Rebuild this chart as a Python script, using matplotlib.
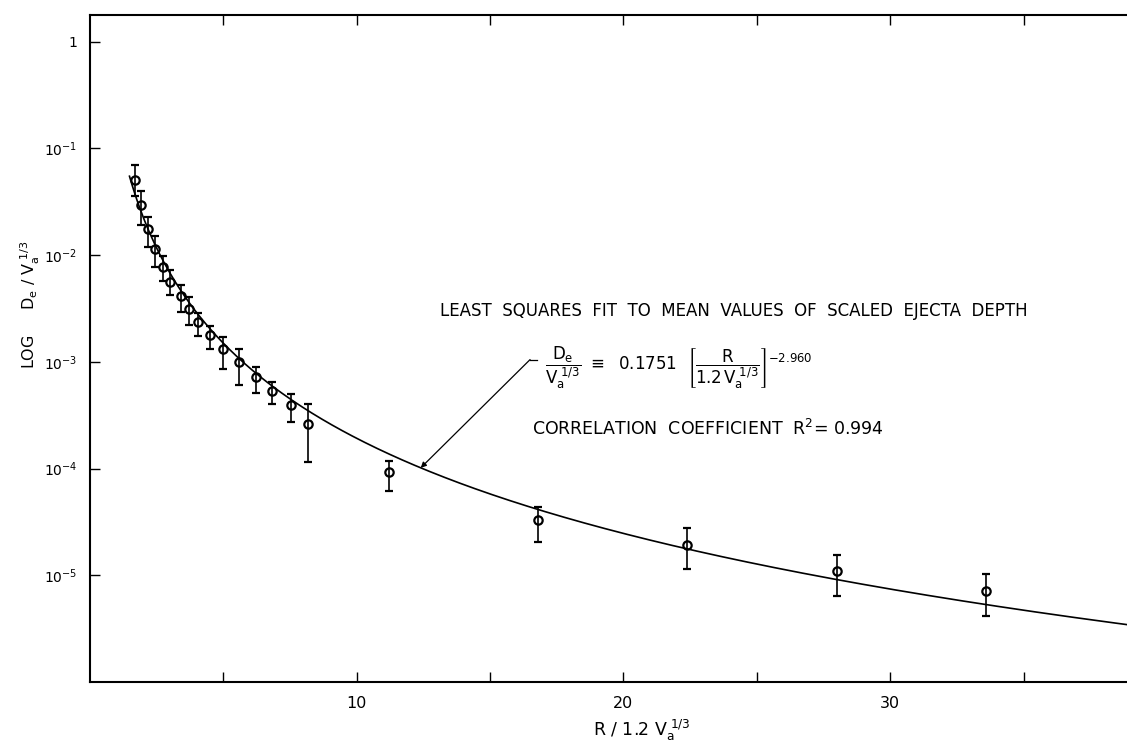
import numpy as np
import matplotlib
matplotlib.use("Agg")
import matplotlib.pyplot as plt

# scaled range and measured ejecta depth (mean, upper, lower)
r_scaled = [1.69, 1.90, 2.16, 2.45, 2.73, 3.01, 3.41, 3.71, 4.05, 4.50,
            5.00, 5.60, 6.21, 6.84, 7.53, 8.16, 11.2, 16.8, 22.4, 28.0, 33.6]
depth_mean = [5.08e-2, 2.97e-2, 1.76e-2, 1.14e-2, 7.76e-3, 5.57e-3, 4.12e-3,
              3.16e-3, 2.35e-3, 1.78e-3, 1.33e-3, 9.93e-4, 7.26e-4, 5.32e-4,
              3.97e-4, 2.61e-4, 9.2e-5, 3.28e-5, 1.93e-5, 1.10e-5, 7.07e-6]
depth_hi = [7.03e-2, 3.95e-2, 2.28e-2, 1.52e-2, 9.75e-3, 7.21e-3, 5.30e-3,
            4.06e-3, 2.88e-3, 2.19e-3, 1.70e-3, 1.31e-3, 9.00e-4, 6.46e-4,
            4.95e-4, 3.99e-4, 1.18e-4, 4.32e-5, 2.78e-5, 1.56e-5, 1.03e-5]
depth_lo = [3.55e-2, 1.93e-2, 1.19e-2, 7.76e-3, 5.69e-3, 4.21e-3, 2.92e-3,
            2.20e-3, 1.74e-3, 1.31e-3, 8.6e-4, 6.01e-4, 5.06e-4, 3.99e-4,
            2.73e-4, 1.15e-4, 6.1e-5, 2.07e-5, 1.135e-5, 6.43e-6, 4.15e-6]

# least squares fit
fit_coef = 0.1751
fit_exp = -2.960
fit_r2 = 0.994

x_ticks = [5, 10, 15, 20, 25, 30, 35]
x_labels = ["", "10", "", "20", "", "30", ""]
y_ticks = [1, 1e-1, 1e-2, 1e-3, 1e-4, 1e-5]
y_labels = ["1", r"$\mathregular{10^{-1}}$", r"$\mathregular{10^{-2}}$",
            r"$\mathregular{10^{-3}}$", r"$\mathregular{10^{-4}}$", r"$\mathregular{10^{-5}}$"]

W, H = 1127, 747
fig = plt.figure(figsize=(W / 100, H / 100), dpi=100)
ax = fig.add_axes([90 / W, (H - 682) / H, (W - 90) / W, (682 - 15) / H])

rr = np.linspace(1.48, 38.9, 400)
ax.plot(rr, fit_coef * rr ** fit_exp, color="black", lw=1.2)

mean = np.array(depth_mean)
yerr = [mean - np.array(depth_lo), np.array(depth_hi) - mean]
ax.errorbar(r_scaled, mean, yerr=yerr, fmt="o", ms=6, mfc="none", mec="black",
            mew=1.6, ecolor="black", elinewidth=1.2, capsize=3, capthick=1.2)

ax.set_yscale("log")
ax.set_xlim(0, 38.88)
ax.set_ylim(1e-6, 10 ** 0.25)
ax.set_xticks(x_ticks)
ax.set_xticklabels(x_labels, fontsize=11.5)
ax.set_yticks(y_ticks)
ax.set_yticklabels(y_labels, fontsize=10)
ax.minorticks_off()
ax.tick_params(axis="both", direction="in", length=7, width=1.0, pad=9)
ax.tick_params(axis="x", top=True, pad=10)
ax.spines["right"].set_visible(False)
for s in ["left", "bottom", "top"]:
    ax.spines[s].set_linewidth(1.5)


def px(x, y):
    return x / W, 1 - y / H


fig.text(*px(642, 730), r"R / 1.2 V$_\mathregular{a}^{\ \mathregular{1/3}}$",
         ha="center", va="center", fontsize=12.5)
fig.text(*px(30, 305), r"LOG     D$_\mathregular{e}$ / V$_\mathregular{a}^{\ \mathregular{1/3}}$",
         ha="center", va="center", rotation=90, fontsize=11.5)

fig.text(*px(440, 311), "LEAST  SQUARES  FIT  TO  MEAN  VALUES  OF  SCALED  EJECTA  DEPTH",
         ha="left", va="center", fontsize=12)
fig.text(*px(545, 368),
         r"$\dfrac{\mathregular{D_e}}{\mathregular{V_a^{\ 1/3}}}\ \equiv\ \ \mathregular{0.1751}\ \ "
         r"\left[\dfrac{\mathregular{R}}{\mathregular{1.2\,V_a^{\ 1/3}}}\right]^{\mathregular{-2.960}}$",
         ha="left", va="center", fontsize=12)
fig.text(*px(532, 429), r"CORRELATION  COEFFICIENT  R$^\mathregular{2}$= 0.994",
         ha="left", va="center", fontsize=12.5)

# leader from the formula down to the fitted curve
tip_x = 12.4
ax.annotate("", xy=(tip_x, fit_coef * tip_x ** fit_exp), xytext=(16.5, 1.05e-3),
            arrowprops=dict(arrowstyle="-|>", lw=0.9, color="black",
                            mutation_scale=8, shrinkA=0, shrinkB=0))
ax.plot([16.5, 16.75], [1.05e-3, 1.05e-3], color="black", lw=0.9)

fig.savefig("out.png", dpi=100)
